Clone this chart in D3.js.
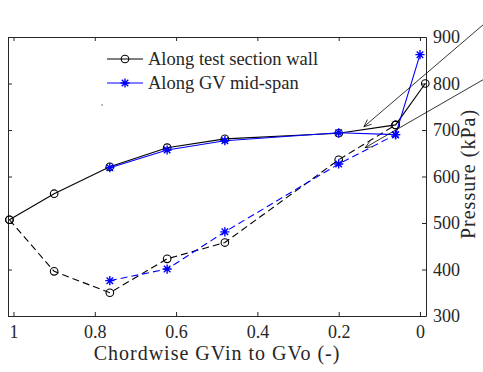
<!DOCTYPE html>
<html>
<head>
<meta charset="utf-8">
<script src="https://cdn.jsdelivr.net/npm/d3@7"></script>
<style>
  html, body { margin: 0; padding: 0; background: #fff; }
  svg { display: block; }
  text { font-family: "Liberation Serif", "DejaVu Serif", serif; fill: #262626; }
</style>
</head>
<body>
<svg id="chart" width="483" height="372"></svg>
<script>
// Chordwise positions (1 = GV inlet, 0 = GV outlet) and static pressure in kPa
const wallUpperX = [1.01, 0.9, 0.763, 0.622, 0.48, 0.2, 0.06, -0.013];
const wallUpperP = [507, 563, 621, 662, 681, 693, 711, 800];
const wallLowerX = [1.01, 0.9, 0.763, 0.622, 0.48, 0.2, 0.06];
const wallLowerP = [507, 396, 350, 423, 458, 636, 711];
const midUpperX = [0.763, 0.622, 0.48, 0.2, 0.06, 0.0];
const midUpperP = [619, 657, 677, 694, 690, 862];
const midLowerX = [0.763, 0.622, 0.48, 0.2, 0.06];
const midLowerP = [376, 401, 481, 627, 690];

const seriesNames = ["Along test section wall", "Along GV mid-span"];
const xTicks = [1, 0.8, 0.6, 0.4, 0.2, 0];
const yTicks = [300, 400, 500, 600, 700, 800, 900];
const xTitle = "Chordwise GVin to GVo (-)";
const yTitle = "Pressure (kPa)";

// Annotation arrows, tail -> head, in data units
const arrowTailX = [-0.155, -0.155];
const arrowTailP = [926, 808];
const arrowHeadX = [0.138, 0.135];
const arrowHeadP = [707, 662];

const svg = d3.select("#chart");
const box = { left: 8, right: 426, top: 37, bottom: 316 };
const axisColor = "#262626";
const tickFont = 18;
const titleFont = 20;

const x = d3.scaleLinear().domain([1.0135, -0.0148]).range([box.left, box.right]);
const y = d3.scaleLinear().domain([300, 900]).range([box.bottom, box.top]);

// Axes: labels on bottom and right, inward ticks on all four sides
const gx = svg.append("g").attr("transform", `translate(0,${box.bottom})`)
  .call(d3.axisBottom(x).tickValues(xTicks).tickFormat(d3.format("")).tickSizeInner(-4).tickSizeOuter(0).tickPadding(9));
const gxTop = svg.append("g").attr("transform", `translate(0,${box.top})`)
  .call(d3.axisTop(x).tickValues(xTicks).tickFormat("").tickSizeInner(-4).tickSizeOuter(0));
const gy = svg.append("g").attr("transform", `translate(${box.right},0)`)
  .call(d3.axisRight(y).tickValues(yTicks).tickSizeInner(-4).tickSizeOuter(0).tickPadding(7));
const gyLeft = svg.append("g").attr("transform", `translate(${box.left},0)`)
  .call(d3.axisLeft(y).tickValues(yTicks).tickFormat("").tickSizeInner(-4).tickSizeOuter(0));

[gx, gxTop, gy, gyLeft].forEach(g => {
  g.select(".domain").attr("stroke", axisColor).attr("stroke-width", 1);
  g.selectAll(".tick line").attr("stroke", axisColor).attr("stroke-width", 1);
  g.selectAll(".tick text").attr("font-size", tickFont).attr("fill", axisColor)
    .style("font-family", '"Liberation Serif", serif');
});

// Axis titles
svg.append("text")
  .attr("x", (box.left + box.right) / 2).attr("y", 360)
  .attr("text-anchor", "middle").attr("font-size", titleFont)
  .attr("letter-spacing", 1)
  .text(xTitle);
svg.append("text")
  .attr("transform", `translate(475,174) rotate(-90)`)
  .attr("text-anchor", "middle").attr("font-size", titleFont)
  .attr("letter-spacing", 1)
  .text(yTitle);

// Series
const line = d3.line().x(d => x(d[0])).y(d => y(d[1]));
const zipPts = (xs, ps) => xs.map((v, i) => [v, ps[i]]);

const starPath = (r) => {
  const d = r * Math.SQRT1_2;
  return `M${-r},0L${r},0M0,${-r}L0,${r}M${-d},${-d}L${d},${d}M${-d},${d}L${d},${-d}`;
};

function drawSeries(pts, color, dashed, marker) {
  svg.append("path").datum(pts)
    .attr("d", line).attr("fill", "none")
    .attr("stroke", color).attr("stroke-width", 1.1)
    .attr("stroke-dasharray", dashed ? "7,4" : null);
  const g = svg.append("g");
  pts.forEach(p => drawMarker(g, x(p[0]), y(p[1]), color, marker));
}

function drawMarker(g, cx, cy, color, marker) {
  if (marker === "circle") {
    g.append("circle").attr("cx", cx).attr("cy", cy).attr("r", 3.8)
      .attr("fill", "none").attr("stroke", color).attr("stroke-width", 1.1);
  } else {
    g.append("path").attr("transform", `translate(${cx},${cy})`)
      .attr("d", starPath(4.6)).attr("fill", "none")
      .attr("stroke", color).attr("stroke-width", 1.4);
  }
}

drawSeries(zipPts(wallUpperX, wallUpperP), "#000", false, "circle");
drawSeries(zipPts(wallLowerX, wallLowerP), "#000", true, "circle");
drawSeries(zipPts(midUpperX, midUpperP), "#0000ff", false, "star");
drawSeries(zipPts(midLowerX, midLowerP), "#0000ff", true, "star");

// Annotation arrows with open heads
arrowTailX.forEach((tx, i) => {
  const x0 = x(tx), y0 = y(arrowTailP[i]);
  const x1 = x(arrowHeadX[i]), y1 = y(arrowHeadP[i]);
  const a = Math.atan2(y0 - y1, x0 - x1);
  const len = 8, spread = 0.4;
  const g = svg.append("g").attr("stroke", "#000").attr("stroke-width", 0.8).attr("fill", "none");
  g.append("line").attr("x1", x0).attr("y1", y0).attr("x2", x1).attr("y2", y1);
  g.append("path").attr("d",
    `M${x1 + len * Math.cos(a + spread)},${y1 + len * Math.sin(a + spread)}L${x1},${y1}` +
    `L${x1 + len * Math.cos(a - spread)},${y1 + len * Math.sin(a - spread)}`);
});

// Legend
const legend = svg.append("g");
const legendColors = ["#000", "#0000ff"];
const legendMarkers = ["circle", "star"];
seriesNames.forEach((name, i) => {
  const ly = 59 + i * 24;
  legend.append("line").attr("x1", 107).attr("x2", 143).attr("y1", ly).attr("y2", ly)
    .attr("stroke", legendColors[i]).attr("stroke-width", 1.1);
  drawMarker(legend, 125, ly, legendColors[i], legendMarkers[i]);
  legend.append("text").attr("x", 148).attr("y", ly + 6)
    .attr("font-size", 18.5).attr("fill", "#262626").text(name);
});
legend.append("circle").attr("cx", 102).attr("cy", 105).attr("r", 0.7).attr("fill", "#444");
</script>
</body>
</html>
